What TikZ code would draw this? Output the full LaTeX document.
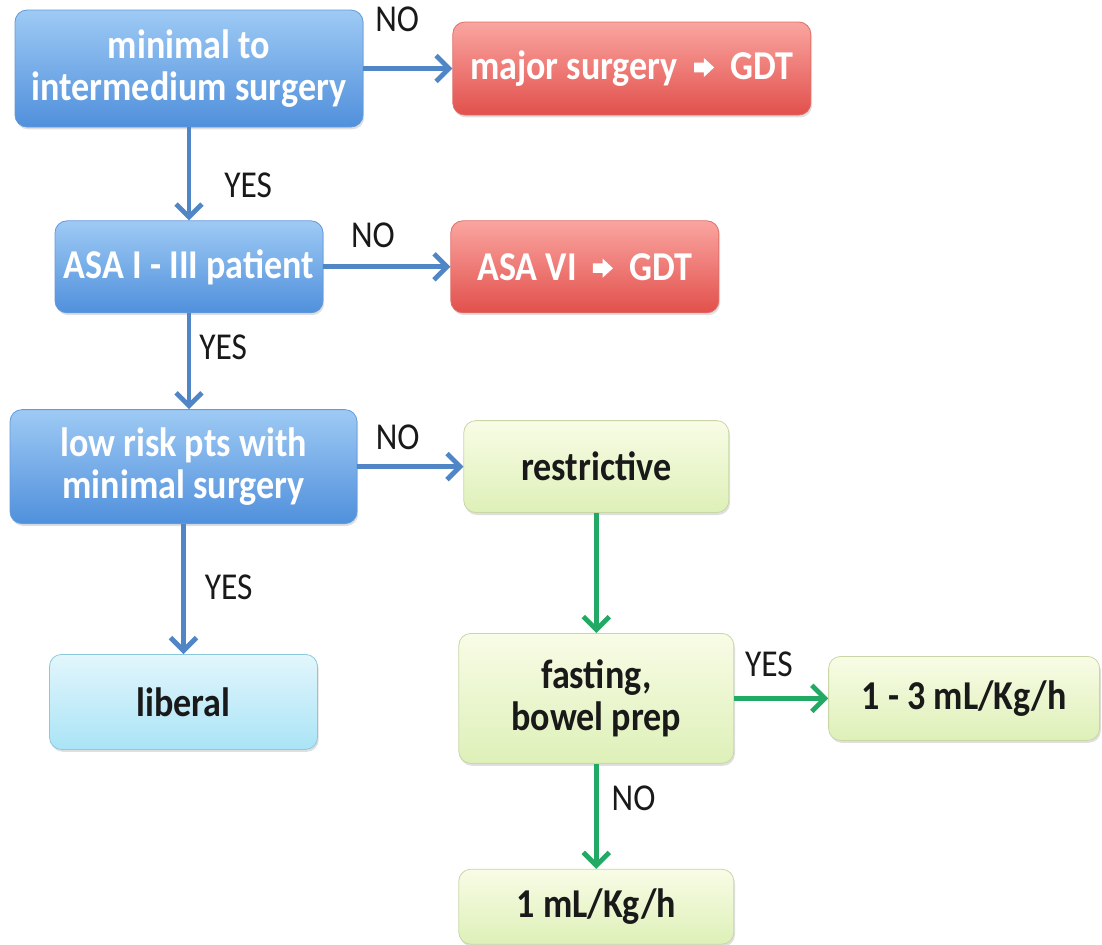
\documentclass[tikz,border=0pt]{standalone}
\usepackage{fontspec}
\setmainfont{Carlito}[FakeStretch=0.88]
\usepackage{tikz}
\usetikzlibrary{arrows.meta,positioning,shadows}
\usepackage{xcolor}
\definecolor{bluetop}{RGB}{158,202,244}
\definecolor{bluebot}{RGB}{80,144,220}
\definecolor{blueline}{RGB}{100,154,218}
\definecolor{redtop}{RGB}{250,165,160}
\definecolor{redbot}{RGB}{226,80,76}
\definecolor{redline}{RGB}{225,110,105}
\definecolor{cyantop}{RGB}{226,246,252}
\definecolor{cyanbot}{RGB}{170,228,246}
\definecolor{cyanline}{RGB}{140,200,220}
\definecolor{greentop}{RGB}{248,252,230}
\definecolor{greenbot}{RGB}{222,240,184}
\definecolor{greenline}{RGB}{200,215,165}
\definecolor{arrblue}{RGB}{80,134,198}
\definecolor{arrgreen}{RGB}{34,170,100}
\definecolor{ink}{RGB}{25,25,25}
\newcommand{\gdtarrow}{\tikz[baseline=-0.6ex]\fill[white,sharp corners]
  (0,-2.4pt) -- (4.8pt,-2.4pt) -- (4.8pt,-4.8pt) -- (10pt,0pt)
  -- (4.8pt,4.8pt) -- (4.8pt,2.4pt) -- (0,2.4pt) -- cycle;}

\begin{document}
\begin{tikzpicture}[
  box/.style={rounded corners=6pt,inner sep=0pt,align=center,
    font=\fontsize{20.5}{21}\selectfont\bfseries,
    drop shadow={opacity=0.25,shadow xshift=0.6pt,shadow yshift=-1.2pt}},
  bluebox/.style={box,draw=blueline,top color=bluetop,bottom color=bluebot,text=white},
  redbox/.style={box,draw=redline,top color=redtop,bottom color=redbot,text=white},
  cyanbox/.style={box,draw=cyanline,top color=cyantop,bottom color=cyanbot,text=ink},
  greenbox/.style={box,draw=greenline,top color=greentop,bottom color=greenbot,text=ink},
  lbl/.style={font=\fontsize{19}{19}\selectfont,text=ink,inner sep=0pt},
  flow/.style={line width=2.4pt,-{Straight Barb[length=6.5pt,width=13pt]}}]
\useasboundingbox (0,0) rectangle (551pt,-472pt);
\node[bluebox,minimum width=174pt,minimum height=58.5pt] (min)
  at (94.5pt,-34.25pt) {minimal to\\intermedium surgery};
\node[redbox,minimum width=179pt,minimum height=46.5pt,right=44.5pt of min]
  (major) {major surgery \ \gdtarrow\ \ GDT};
\node[bluebox,minimum width=134pt,minimum height=46pt,below=46.5pt of min]
  (asa) {ASA I - III patient};
\node[redbox,minimum width=134pt,minimum height=46pt,right=63.5pt of asa]
  (asavi) {ASA VI \ \gdtarrow\ \ GDT};
\node[bluebox,minimum width=173.5pt,minimum height=57pt,below=48pt of asa,
  xshift=-2.75pt] (low) {low risk pts with\\minimal surgery};
\node[greenbox,minimum width=132.5pt,minimum height=46pt,right=53pt of low]
  (restr) {restrictive};
\node[cyanbox,minimum width=134pt,minimum height=47.5pt,below=65pt of low]
  (liberal) {liberal};
\node[greenbox,minimum width=137.5pt,minimum height=65pt,below=60pt of restr]
  (fast) {fasting,\\bowel prep};
\node[greenbox,minimum width=135.5pt,minimum height=42pt,right=47pt of fast]
  (r13) {1 - 3 mL/Kg/h};
\node[greenbox,minimum width=137.5pt,minimum height=37.5pt,below=52.5pt of fast]
  (r1) {1 mL/Kg/h};
% blue branch
\draw[flow,arrblue] (min) -- (major) node[lbl,pos=0.38,above=17pt] {NO};
\draw[flow,arrblue] (min) -- (asa) node[lbl,pos=0.62,right=16.5pt] {YES};
\draw[flow,arrblue] (asa) -- (asavi) node[lbl,pos=0.39,above=8.5pt] {NO};
\draw[flow,arrblue] (asa.south) -- (asa.south |- low.north)
  node[lbl,pos=0.35,right=4pt] {YES};
\draw[flow,arrblue] (low.east) -- (low.east -| restr.west)
  node[lbl,pos=0.38,above=7pt] {NO};
\draw[flow,arrblue] (low) -- (liberal) node[lbl,pos=0.49,right=9.5pt] {YES};
% green branch
\draw[flow,arrgreen] (restr) -- (fast);
\draw[flow,arrgreen] (fast) -- (r13) node[lbl,pos=0.37,above=9.5pt] {YES};
\draw[flow,arrgreen] (fast) -- (r1) node[lbl,pos=0.33,right=6.5pt] {NO};
\end{tikzpicture}
\end{document}
